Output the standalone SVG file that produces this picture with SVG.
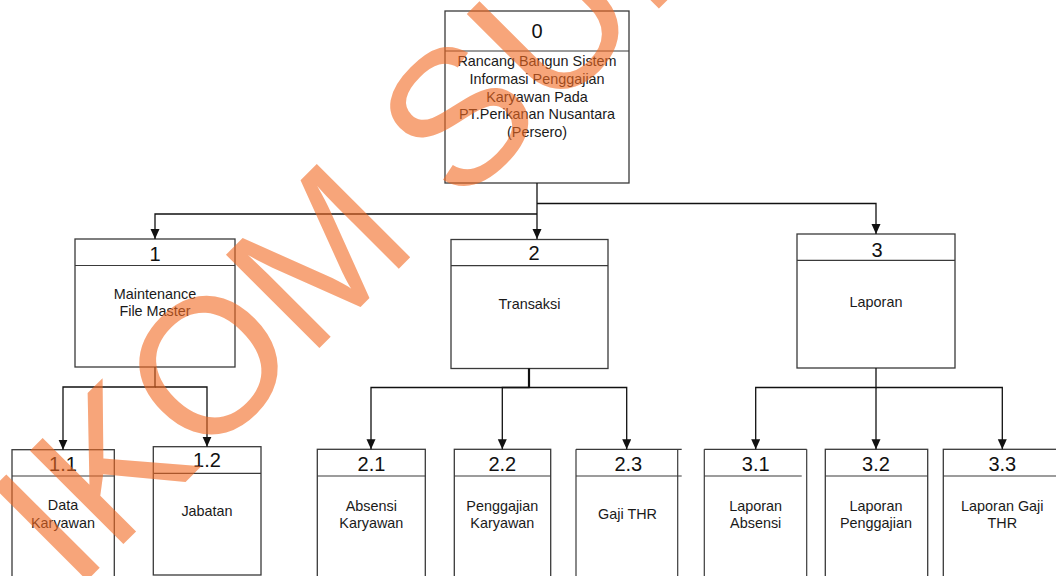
<svg xmlns="http://www.w3.org/2000/svg" width="1056" height="576" viewBox="0 0 1056 576">
  <style>
    .box { fill: #ffffff; stroke: #3a3a3a; stroke-width: 1.3; }
    .div { fill: none; stroke: #3a3a3a; stroke-width: 1.2; }
    .num { font-family: "Liberation Sans", Arial, sans-serif; font-size: 20px; fill: #111; text-anchor: middle; }
    .lbl { font-family: "Liberation Sans", Arial, sans-serif; font-size: 14.4px; fill: #1a1a1a; text-anchor: middle; }
    .conn { fill: none; stroke: #111; stroke-width: 1.3; }
    .wm { font-family: "Liberation Sans", Arial, sans-serif; font-size: 192px; fill: #f36a22; opacity: 0.6; }
  </style>
  <defs>
    <marker id="arrow" markerUnits="userSpaceOnUse" markerWidth="11" markerHeight="10" refX="10" refY="4.5" orient="auto">
      <path d="M0,0 L10,4.5 L0,9 z" fill="#111"/>
    </marker>
  </defs>

  <rect width="1056" height="576" fill="#ffffff"/>

  <!-- process 0 -->
  <g id="node-0">
    <rect class="box" x="445" y="11" width="184" height="172"/>
    <line class="div" x1="445" y1="51" x2="629" y2="51"/>
    <text class="num" x="537" y="38">0</text>
    <text class="lbl" x="537" y="66">Rancang Bangun Sistem</text>
    <text class="lbl" x="537" y="83.5">Informasi Penggajian</text>
    <text class="lbl" x="537" y="101.5">Karyawan Pada</text>
    <text class="lbl" x="537" y="119.3">PT.Perikanan Nusantara</text>
    <text class="lbl" x="537" y="137">(Persero)</text>
  </g>

  <!-- level 1 -->
  <g id="node-1">
    <rect class="box" x="75" y="239" width="160" height="128"/>
    <line class="div" x1="75" y1="265.5" x2="235" y2="265.5"/>
    <text class="num" x="155" y="261">1</text>
    <text class="lbl" x="155" y="298.5">Maintenance</text>
    <text class="lbl" x="155" y="316.3">File Master</text>
  </g>
  <g id="node-2">
    <rect class="box" x="451" y="239.5" width="157" height="129"/>
    <line class="div" x1="451" y1="265.7" x2="608" y2="265.7"/>
    <text class="num" x="534" y="259.5">2</text>
    <text class="lbl" x="529.5" y="308.5">Transaksi</text>
  </g>
  <g id="node-3">
    <rect class="box" x="797" y="234" width="158" height="134"/>
    <line class="div" x1="797" y1="260.3" x2="955" y2="260.3"/>
    <text class="num" x="877" y="257">3</text>
    <text class="lbl" x="876" y="306.7">Laporan</text>
  </g>

  <!-- level 2 under 1 -->
  <g id="node-1-1">
    <rect class="box" x="12" y="449.7" width="102.3" height="140"/>
    <line class="div" x1="12" y1="476" x2="114.3" y2="476"/>
    <text class="num" x="63" y="470.7">1.1</text>
    <text class="lbl" x="63" y="510">Data</text>
    <text class="lbl" x="63" y="527.7">Karyawan</text>
  </g>
  <g id="node-1-2">
    <rect class="box" x="153.3" y="446.7" width="107.7" height="128.3"/>
    <line class="div" x1="153.3" y1="473.3" x2="261" y2="473.3"/>
    <text class="num" x="207" y="467.3">1.2</text>
    <text class="lbl" x="207" y="515.7">Jabatan</text>
  </g>

  <!-- level 2 under 2 -->
  <g id="node-2-1">
    <rect class="box" x="317.3" y="449.3" width="108" height="140"/>
    <line class="div" x1="317.3" y1="476" x2="425.3" y2="476"/>
    <text class="num" x="371.5" y="470.7">2.1</text>
    <text class="lbl" x="371.3" y="511">Absensi</text>
    <text class="lbl" x="371.3" y="528.3">Karyawan</text>
  </g>
  <g id="node-2-2">
    <rect class="box" x="454.3" y="449.3" width="96.4" height="140"/>
    <line class="div" x1="454.3" y1="476" x2="550.7" y2="476"/>
    <text class="num" x="502.3" y="470.7">2.2</text>
    <text class="lbl" x="502.3" y="511">Penggajian</text>
    <text class="lbl" x="502.3" y="528.3">Karyawan</text>
  </g>
  <g id="node-2-3">
    <line class="div" x1="576" y1="449.3" x2="576" y2="590"/>
    <line class="div" x1="677.7" y1="449.3" x2="677.7" y2="590"/>
    <line class="div" x1="576" y1="449.3" x2="681.7" y2="449.3"/>
    <line class="div" x1="576" y1="476" x2="681.7" y2="476"/>
    <text class="num" x="628.3" y="470.7">2.3</text>
    <text class="lbl" x="627.5" y="519.3">Gaji THR</text>
  </g>

  <!-- level 2 under 3 -->
  <g id="node-3-1">
    <line class="div" x1="704.3" y1="449.3" x2="704.3" y2="590"/>
    <line class="div" x1="806.7" y1="449.3" x2="806.7" y2="590"/>
    <line class="div" x1="704.3" y1="449.3" x2="806.7" y2="449.3"/>
    <line class="div" x1="704.3" y1="476" x2="801.7" y2="476"/>
    <text class="num" x="755.7" y="470.7">3.1</text>
    <text class="lbl" x="755.7" y="511">Laporan</text>
    <text class="lbl" x="755.7" y="528.3">Absensi</text>
  </g>
  <g id="node-3-2">
    <rect class="box" x="825.3" y="449.3" width="102.4" height="140"/>
    <line class="div" x1="825.3" y1="476" x2="927.7" y2="476"/>
    <text class="num" x="876" y="470.7">3.2</text>
    <text class="lbl" x="876" y="511">Laporan</text>
    <text class="lbl" x="876" y="528.3">Penggajian</text>
  </g>
  <g id="node-3-3">
    <rect class="box" x="943.3" y="449.3" width="120" height="140"/>
    <line class="div" x1="943.3" y1="476" x2="1060" y2="476"/>
    <text class="num" x="1002.3" y="470.7">3.3</text>
    <text class="lbl" x="1002.3" y="511">Laporan Gaji</text>
    <text class="lbl" x="1002.3" y="528.3">THR</text>
  </g>

  <!-- connectors -->
  <g id="connectors">
    <path class="conn" d="M537,183 V239" marker-end="url(#arrow)"/>
    <path class="conn" d="M537,203.5 H876 V234" marker-end="url(#arrow)"/>
    <path class="conn" d="M537,214 H155 V239" marker-end="url(#arrow)"/>

    <path class="conn" d="M155,367 V387 H63 V449.7" marker-end="url(#arrow)"/>
    <path class="conn" d="M155,387 H207 V446.7" marker-end="url(#arrow)"/>

    <path class="conn" d="M529,368.5 V387.5 H371 V449.3" marker-end="url(#arrow)"/>
    <path class="conn" d="M529,387.5 H502.3 V449.3" marker-end="url(#arrow)"/>
    <path class="conn" d="M529,387.5 H626.7 V449.3" marker-end="url(#arrow)"/>
    <path class="conn" d="M529,368.5 V387.5" style="stroke-width:2.2"/>

    <path class="conn" d="M876,368 V387.5 H755.7 V449.3" marker-end="url(#arrow)"/>
    <path class="conn" d="M876,387.5 V449.3" marker-end="url(#arrow)"/>
    <path class="conn" d="M876,387.5 H1002.3 V449.3" marker-end="url(#arrow)"/>
  </g>

  <!-- diagonal watermark -->
  <g id="watermark">
    <text class="wm" x="-612" y="472" transform="rotate(-45)">STIKOM SURABAYA</text>
  </g>
</svg>
